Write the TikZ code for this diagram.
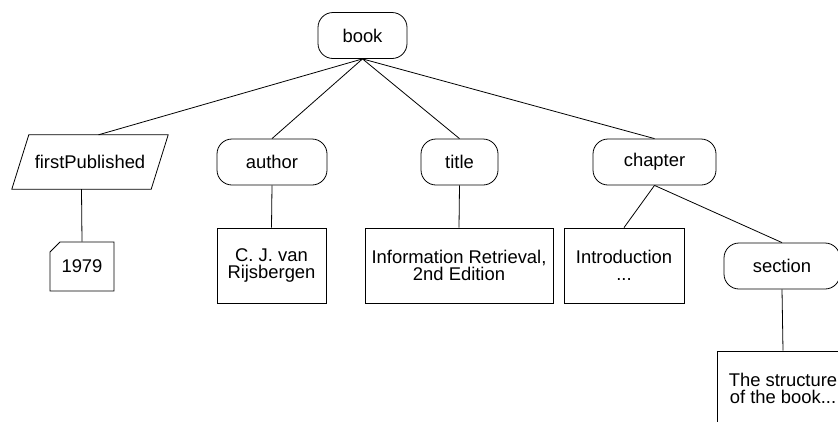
\documentclass[tikz,border=0pt]{standalone}
\usepackage{fontspec}
\setmainfont{Liberation Sans}
\usetikzlibrary{shapes.misc,calc}
\begin{document}
\begin{tikzpicture}[x=1pt,y=-1pt,
  every node/.style={font=\fontsize{18.4}{17.3}\selectfont, align=center, inner sep=0pt},
  element/.style={draw, line width=0.8pt, rectangle, rounded corners=15pt, minimum height=46pt},
  textbox/.style={draw, line width=0.8pt, rectangle, minimum height=75pt},
  attrbox/.style={rectangle, minimum height=54pt},
  valuebox/.style={draw, line width=0.8pt, chamfered rectangle,
    chamfered rectangle corners=north west, chamfered rectangle xsep=6pt,
    chamfered rectangle ysep=4pt, minimum width=64pt, minimum height=49pt},
  edge/.style={line width=0.8pt}]
\useasboundingbox (0,0) rectangle (838,421);
\clip (0,0) rectangle (838,421);

% element and attribute nodes
\node[element, minimum width=89pt] (book) at (362.5,35.5) {book};
\node[attrbox, minimum width=139pt] (fp) at (90,162) {firstPublished};
\node[element, minimum width=110pt] (author) at (272,162) {author};
\node[element, minimum width=77pt] (title) at (459.5,162) {title};
\node[element, minimum width=123pt] (chapter) at (654.5,162) {chapter};
\node[element, minimum width=116pt] (section) at (782,266) {section};

% slanted outline of the attribute box
\draw[line width=0.8pt, line join=miter]
  ($(fp.north west)+(8.5,0)$) -- ($(fp.north east)+(8.5,0)$) --
  ($(fp.south east)+(-8.5,0)$) -- ($(fp.south west)+(-8.5,0)$) -- cycle;
\coordinate (fptop) at ($(fp.north)+(8.5,0)$);
\coordinate (fpbot) at ($(fp.south)+(-8.5,0)$);

% text content nodes
\node[valuebox] (year) at (82,266.5) {1979};
\node[textbox, minimum width=109pt] (cj) at (271.5,265.5) {C. J. van\\Rijsbergen};
\node[textbox, minimum width=188pt] (ir) at (459,265.5) {Information Retrieval,\\2nd Edition};
\node[textbox, minimum width=120pt] (intro) at (624,265.5) {Introduction\\...};
\node[textbox, minimum width=132pt] (struct) at (783,388.5) {The structure\\of the book...};

% tree edges
\draw[edge] (book.south) -- (fptop);
\draw[edge] (book.south) -- (author.north);
\draw[edge] (book.south) -- (title.north);
\draw[edge] (book.south) -- (chapter.north);
\draw[edge] (fpbot) -- (year.north);
\draw[edge] (author.south) -- (cj.north);
\draw[edge] (title.south) -- (ir.north);
\draw[edge] (chapter.south) -- (intro.north);
\draw[edge] (chapter.south) -- (section.north);
\draw[edge] (section.south) -- (struct.north);
\end{tikzpicture}
\end{document}
